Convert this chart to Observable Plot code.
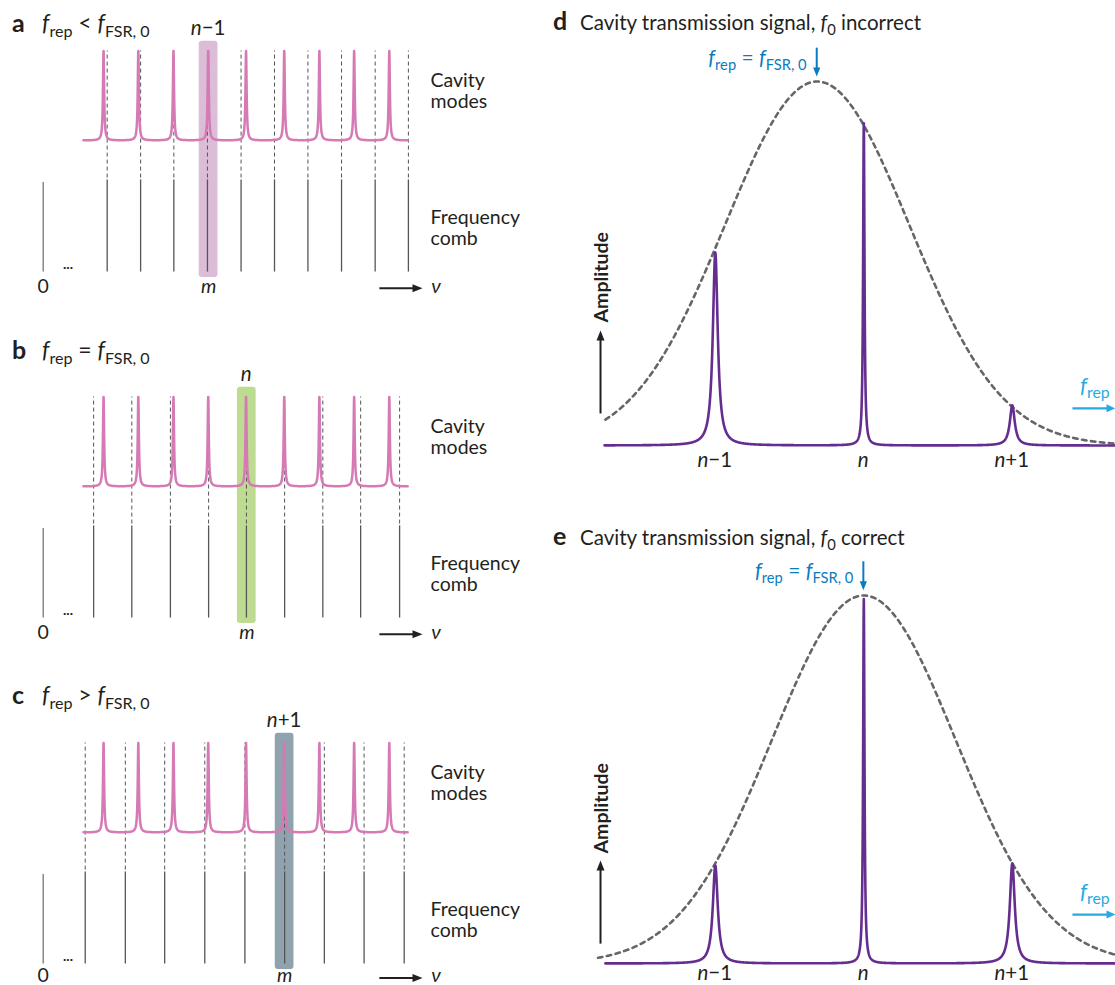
<!DOCTYPE html>
<html><head><meta charset="utf-8">
<script src="https://cdn.jsdelivr.net/npm/d3@7"></script>
<script src="https://cdn.jsdelivr.net/npm/@observablehq/plot@0.6"></script>
<style>
body{margin:0;background:#fff}
#fig{position:relative;width:1115px;height:985px;overflow:hidden;background:#fff}
#fig svg{position:absolute;overflow:visible}
text{white-space:pre}
</style></head><body><div id="fig"></div>
<script>
// ---------------- DATA ----------------
// Panels a–c: frequency in comb units (0 = zero-frequency tooth)
const cavityModes = [15.8, 24.9, 34.1, 43.2, 53.1, 63.1, 72.3, 81.4, 90.6];
const cavityHeights = [1, 1, 1, 1, 1, 1, 1, 1, 1];
const cavityWidths = [0.18, 0.18, 0.18, 0.18, 0.18, 0.18, 0.18, 0.18, 0.18];
const cavitySpan = [10.55, 95.4];
const combA = [16.75, 25.5, 34.2, 43.0, 51.8, 60.55, 69.3, 78.1, 86.9, 95.6];
const combB = [13.2, 23.2, 33.3, 43.3, 53.2, 63.2, 73.2, 83.1, 93.3];
const combC = [11.0, 21.5, 31.8, 42.3, 52.8, 63.2, 73.6, 84.0, 94.5];
const panelLetters = ["a", "b", "c"];
const relations = [" < ", " = ", " > "];
const highlightedTooth = [43.3, 53.3, 63.2];
const highlightOrder = ["−1", "", "+1"];
const highlightFill = ["#dcbdd8", "#bedb92", "#90a2ae"];

// Panels d–e: frequency in units of the mode spacing (0 = mode n)
const orderPos = [-1, 0, 1];
const orderSuffix = ["−1", "", "+1"];
const ampD = [0.53, 0.885, 0.11];
const ampE = [0.266, 0.99, 0.272];
const widthD = [0.02, 0.0055, 0.02];
const widthE = [0.02, 0.0055, 0.02];
const envCenter = [-0.314, 0.0];
const envWidth = [0.62, 0.62];
const spectrumStart = [-1.746, -1.74];
const envStart = [-1.74, -1.79];
const spanEnd = 1.695;
const rightLetters = ["d", "e"];
const rightStatus = [" incorrect", " correct"];

// ---------------- STYLE ----------------
const FONT = "Lato, 'Open Sans', sans-serif";
const INK = "#231f20", PINK = "#d57ab5", PURPLE = "#652d90", COMB = "#555";
const BLUE = "#0b7bc1", CYAN = "#27aae1", ENV = "#666";

const fig = document.getElementById("fig");

function head(angle, len, half) {
  return {draw(ctx) {
    const ca = Math.cos(angle), sa = Math.sin(angle);
    const p = (u, v) => [u * ca - v * sa, u * sa + v * ca];
    ctx.moveTo(0, 0);
    ctx.lineTo(...p(-len, half));
    ctx.lineTo(...p(-len, -half));
    ctx.closePath();
  }};
}
const RIGHT = 0, DOWN = Math.PI / 2, UP = -Math.PI / 2;

function lineSpectrum(centers, heights, widths, x0, x1, step) {
  const xs = d3.range(x0, x1, step).concat([x1], centers).sort((a, b) => a - b);
  return xs.map(x => ({x, y: d3.sum(centers, (c, k) => heights[k] * widths[k] ** 2 / ((x - c) ** 2 + widths[k] ** 2))}));
}
function envelope(center, width, x0, x1, step) {
  return d3.range(x0, x1 + step / 2, step).map(x => ({x, y: Math.exp(-((x - center) ** 2) / (2 * width * width))}));
}

function richText(svg, x, y, parts, o = {}) {
  const {anchor = "start", size = 20, sub = 0.72, shift = 0.24, fill = INK, weight = "normal"} = o;
  const t = d3.select(svg).append("text")
    .attr("x", x).attr("y", y).attr("text-anchor", anchor)
    .attr("font-family", FONT).attr("font-size", size).attr("fill", fill).attr("font-weight", weight);
  let cur = 0;
  for (const p of parts) {
    const s = t.append("tspan").text(p.t);
    const want = p.sub ? size * shift : 0;
    if (want !== cur) { s.attr("dy", want - cur); cur = want; }
    if (p.sub) s.attr("font-size", size * sub);
    if (p.i) s.attr("font-style", "italic");
    if (p.b) s.attr("font-weight", "bold");
    if (p.size) s.attr("font-size", p.size);
  }
  return t;
}

function place(svg, left, top) {
  svg.style.position = "absolute";
  svg.style.left = left + "px";
  svg.style.top = top + "px";
  fig.appendChild(svg);
}

// ---------------- PANELS a–c ----------------
const X0 = 42.7, XU = 3.82, YU = 89.5, LW = 545;
const leftLayout = [
  {top: 0, h: 330, base: 140, title: 31, foot: -1.70},
  {top: 330, h: 346, base: 156, title: 28, foot: -1.70},
  {top: 676, h: 309, base: 156, title: 27, foot: -1.675}
];
const combs = [combA, combB, combC];
const cavityCurve = lineSpectrum(cavityModes, cavityHeights, cavityWidths, cavitySpan[0], cavitySpan[1], 0.02);

leftLayout.forEach((L, i) => {
  const c = highlightedTooth[i];
  const comb = combs[i];
  const txt = {fontFamily: FONT, fill: INK, fontSize: 19.5, lineAnchor: "bottom"};
  const plot = Plot.plot({
    width: LW, height: L.h, margin: 0,
    x: {domain: [-X0 / XU, (LW - X0) / XU], axis: null},
    y: {domain: [-(L.h - L.base) / YU, L.base / YU], axis: null},
    style: {background: "transparent", overflow: "visible"},
    marks: [
      Plot.rect([c], {x1: d => d - 2.45, x2: d => d + 2.45, y1: () => -1.53, y2: () => 1.11, fill: highlightFill[i], rx: 3}),
      Plot.ruleX(comb, {y1: () => -0.42, y2: () => 1.0, stroke: COMB, strokeWidth: 1, strokeDasharray: "4,3"}),
      Plot.ruleX(comb, {y1: () => -1.47, y2: () => -0.44, stroke: COMB, strokeWidth: 1.3}),
      Plot.ruleX([0], {y1: () => -1.47, y2: () => -0.47, stroke: "#777", strokeWidth: 1.3}),
      Plot.line(cavityCurve, {x: "x", y: "y", stroke: PINK, strokeWidth: 2.5}),
      Plot.text(["Cavity\nmodes"], {x: () => 101.4, y: () => 0.358, text: d => d, textAnchor: "start", lineHeight: 1.08, ...txt}),
      Plot.text(["Frequency\ncomb"], {x: () => 101.4, y: () => -1.173, text: d => d, textAnchor: "start", lineHeight: 1.08, ...txt}),
      Plot.text(["0"], {x: () => 0, y: () => L.foot, text: d => d, ...txt}),
      Plot.text(["m"], {x: () => c, y: () => L.foot, text: d => d, fontStyle: "italic", ...txt}),
      Plot.text(["..."], {x: () => 6.5, y: () => -1.44, text: d => d, ...txt, fontSize: 14, fontWeight: "bold"}),
      Plot.link([0], {x1: () => 88.0, x2: () => 97.8, y1: () => L.foot + 0.05, y2: () => L.foot + 0.05, stroke: INK, strokeWidth: 2}),
      Plot.dot([0], {x: () => 99.3, y: () => L.foot + 0.05, symbol: head(RIGHT, 10, 4), r: 4, fill: INK, stroke: "none"}),
      Plot.text(["ν"], {x: () => 101.6, y: () => L.foot, text: d => d, fontStyle: "italic", textAnchor: "start", ...txt, fontSize: 20})
    ]
  });
  const sx = plot.scale("x").apply, sy = plot.scale("y").apply;
  richText(plot, 12, L.title + 1, [{t: panelLetters[i]}], {size: 25, weight: "bold"});
  richText(plot, 42, L.title, [{t: "f", i: 1}, {t: "rep", sub: 1}, {t: relations[i]}, {t: "f", i: 1}, {t: "FSR, 0", sub: 1}], {size: 23, sub: 0.7});
  richText(plot, sx(c), sy(1.17), [{t: "n", i: 1}, {t: highlightOrder[i]}], {anchor: "middle", size: 20.5});
  place(plot, 0, L.top);
});

// ---------------- PANELS d–e ----------------
const RX = 545, RW = 570, UX = 148.5, U0 = 318.3;
const rightLayout = [
  {top: 0, h: 500, base: 445, unit: 364, title: 30, ampFrom: 0.088, ampTo: 0.316, ampText: 0.338, arrowY: 0.102, label: -0.06},
  {top: 500, h: 485, base: 463, unit: 368, title: 45, ampFrom: 0.054, ampTo: 0.28, ampText: 0.299, arrowY: 0.133, label: -0.046}
];
const amps = [ampD, ampE], widths = [widthD, widthE];

rightLayout.forEach((R, i) => {
  const spec = lineSpectrum(orderPos, amps[i], widths[i], spectrumStart[i], spanEnd, 0.001);
  const env = envelope(envCenter[i], envWidth[i], envStart[i], spanEnd, 0.005);
  const ax = -1.773, bx = envCenter[i];
  const plot = Plot.plot({
    width: RW, height: R.h, margin: 0,
    x: {domain: [-U0 / UX, (RW - U0) / UX], axis: null},
    y: {domain: [-(R.h - R.base) / R.unit, R.base / R.unit], axis: null},
    style: {background: "transparent", overflow: "visible"},
    marks: [
      Plot.line(env, {x: "x", y: "y", stroke: ENV, strokeWidth: 2.6, strokeDasharray: "4.5,4.5"}),
      Plot.line(spec, {x: "x", y: "y", stroke: PURPLE, strokeWidth: 2.6}),
      // amplitude axis arrow
      Plot.link([0], {x1: () => ax, x2: () => ax, y1: () => R.ampFrom, y2: () => R.ampTo - 6 / R.unit, stroke: INK, strokeWidth: 2}),
      Plot.dot([0], {x: () => ax, y: () => R.ampTo, symbol: head(UP, 10, 4), r: 4, fill: INK, stroke: "none"}),
      Plot.text(["Amplitude"], {x: () => ax + 0.005, y: () => R.ampText, text: d => d, rotate: -90, textAnchor: "start", lineAnchor: "middle", fontFamily: FONT, fontWeight: "bold", fontSize: 19.5, fill: INK}),
      // f_rep = f_FSR,0 marker arrow
      Plot.link([0], {x1: () => bx - 0.003, x2: () => bx - 0.003, y1: () => 1.093, y2: () => 1.014 + 5 / R.unit, stroke: BLUE, strokeWidth: 2}),
      Plot.dot([0], {x: () => bx - 0.003, y: () => 1.014, symbol: head(DOWN, 9, 3.6), r: 4, fill: BLUE, stroke: "none"}),
      // f_rep scan arrow
      Plot.link([0], {x1: () => 1.405, x2: () => spanEnd - 6 / UX, y1: () => R.arrowY, y2: () => R.arrowY, stroke: CYAN, strokeWidth: 2.2}),
      Plot.dot([0], {x: () => spanEnd, y: () => R.arrowY, symbol: head(RIGHT, 9, 4), r: 4, fill: CYAN, stroke: "none"})
    ]
  });
  const sx = plot.scale("x").apply, sy = plot.scale("y").apply;
  richText(plot, 8, R.title, [{t: rightLetters[i]}], {size: 25, weight: "bold"});
  richText(plot, 35, R.title, [{t: "Cavity transmission signal, "}, {t: "f", i: 1}, {t: "0", sub: 1}, {t: rightStatus[i]}], {size: 20.5});
  richText(plot, sx(bx) - 10, sy(1.045), [{t: "f", i: 1}, {t: "rep", sub: 1}, {t: " = "}, {t: "f", i: 1}, {t: "FSR, 0", sub: 1}], {anchor: "end", size: 21, sub: 0.7, fill: BLUE});
  richText(plot, sx(1.459), sy(R.arrowY + 0.042), [{t: "f", i: 1}, {t: "rep", sub: 1}], {size: 22, fill: CYAN});
  orderPos.forEach((p, k) => richText(plot, sx(p), sy(R.label), [{t: "n", i: 1}, {t: orderSuffix[k]}], {anchor: "middle", size: 20.5}));
  place(plot, RX, R.top);
});
</script></body></html>
